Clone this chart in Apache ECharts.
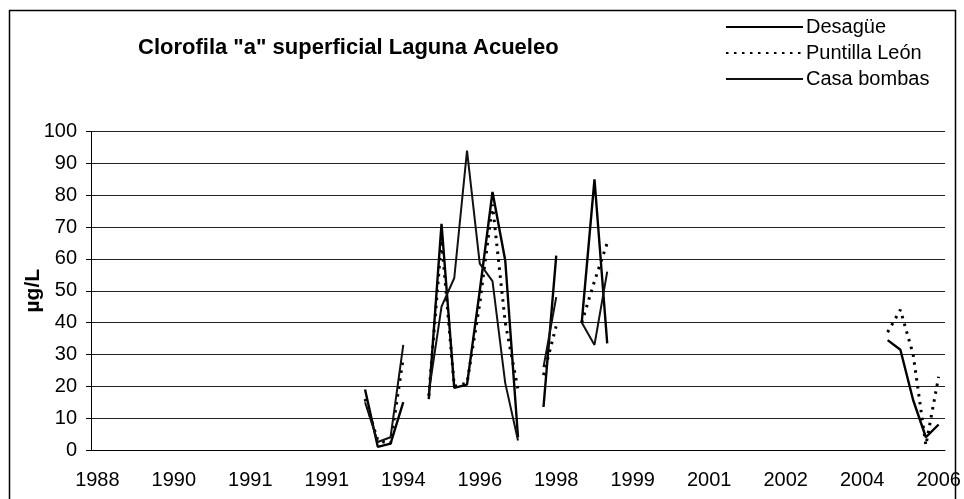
<!DOCTYPE html>
<html>
<head>
<meta charset="utf-8">
<script src="https://cdn.jsdelivr.net/npm/echarts@6/dist/echarts.min.js"></script>
<style>
  html, body { margin: 0; padding: 0; background: #fff; }
  #chart { width: 964px; height: 499px; }
</style>
</head>
<body>
<div id="chart"></div>
<script>
// sampling dates (one category per campaign); only every 6th is labelled
var categories = [
  '1988', '1988', '1989', '1989', '1989', '1990',
  '1990', '1990', '1990', '1991', '1991', '1991',
  '1991', '1991', '1991', '1991', '1991', '1991',
  '1991', '1992', '1993', '1993', '1993', '1994',
  '1994', '1995', '1995', '1995', '1995', '1996',
  '1996', '1996', '1997', '1997', '1997', '1998',
  '1998', '1998', '1999', '1999', '1999', '1999',
  '1999', '2000', '2000', '2000', '2001', '2001',
  '2001', '2001', '2001', '2002', '2002', '2002',
  '2002', '2003', '2003', '2003', '2004', '2004',
  '2004', '2005', '2005', '2005', '2005', '2006',
  '2006'
];

var n = null;
// µg/L, null = no sample
var desague = [
  n, n, n, n, n, n, n, n, n, n, n, n, n, n, n, n, n, n, n, n, n,
  19, 1, 2, 15, n,
  16, 71, 19.5, 20.5, 50, 81, 59.5, 4, n,
  13.5, 61, n,
  40, 85, 33.5,
  n, n, n, n, n, n, n, n, n, n, n, n, n, n, n, n, n, n, n, n, n,
  34.5, 31.5, 15.7, 4, 8
];
var puntilla = [
  n, n, n, n, n, n, n, n, n, n, n, n, n, n, n, n, n, n, n, n, n,
  16, 3, 2, 29, n,
  17, 66, 20, 21, 46, 77, 40, 19, n,
  23.5, 39, n,
  40, 53, 65,
  n, n, n, n, n, n, n, n, n, n, n, n, n, n, n, n, n, n, n, n, n,
  37, 44, 30, 1.5, 23
];
var casaBombas = [
  n, n, n, n, n, n, n, n, n, n, n, n, n, n, n, n, n, n, n, n, n,
  15, 2.5, 4, 33, n,
  18, 45, 54, 94, 58.5, 53, 21, 3, n,
  26, 48, n,
  40, 33, 56,
  n, n, n, n, n, n, n, n, n, n, n, n, n, n, n, n, n, n, n, n, n,
  n, n, n, n, n
];
var yTicks = [0, 100, 10]; // min, max, step

var font = 'Liberation Sans, Arial, sans-serif';
var chart = echarts.init(document.getElementById('chart'));

chart.setOption({
  animation: false,
  backgroundColor: '#fff',
  title: {
    text: 'Clorofila "a" superficial Laguna Acueleo',
    left: 138,
    top: 37,
    padding: 0,
    textStyle: { fontFamily: font, fontSize: 22, fontWeight: 'bold', color: '#000' }
  },
  legend: {
    orient: 'vertical',
    left: 725,
    top: 17,
    padding: 0,
    itemWidth: 77,
    itemHeight: 20,
    itemGap: 6,
    itemStyle: { opacity: 0 },
    textStyle: { fontFamily: font, fontSize: 20, color: '#000', padding: [0, 0, 0, -2] },
    data: ['Desagüe', 'Puntilla León', 'Casa bombas']
  },
  grid: { left: 91, right: 19, top: 131.5, bottom: 49 },
  xAxis: {
    type: 'category',
    data: categories,
    boundaryGap: true,
    axisLine: { lineStyle: { color: '#000', width: 1 } },
    axisTick: { interval: 1, length: 5, lineStyle: { color: '#000' } },
    axisLabel: { interval: 5, margin: 20, fontFamily: font, fontSize: 20, color: '#000' }
  },
  yAxis: {
    type: 'value',
    min: yTicks[0],
    max: yTicks[1],
    interval: yTicks[2],
    name: 'µg/L',
    nameLocation: 'middle',
    nameRotate: 90,
    nameGap: 47,
    nameMoveOverlap: false,
    nameTextStyle: { fontFamily: font, fontSize: 21, fontWeight: 'bold', color: '#000' },
    axisLine: { show: true, lineStyle: { color: '#000', width: 1 } },
    axisTick: { show: true, length: 5, lineStyle: { color: '#000' } },
    axisLabel: { margin: 14, fontFamily: font, fontSize: 20, color: '#000' },
    splitLine: { lineStyle: { color: '#222', width: 1 } }
  },
  series: [
    {
      name: 'Desagüe', type: 'line', data: desague,
      showSymbol: false, symbol: 'none', connectNulls: false,
      lineStyle: { color: '#000', width: 2.4 },
      itemStyle: { color: '#000' }
    },
    {
      name: 'Puntilla León', type: 'line', data: puntilla,
      showSymbol: false, symbol: 'none', connectNulls: false,
      lineStyle: { color: '#000', width: 3, type: [2.5, 5.5] },
      itemStyle: { color: '#000' }
    },
    {
      name: 'Casa bombas', type: 'line', data: casaBombas,
      showSymbol: false, symbol: 'none', connectNulls: false,
      lineStyle: { color: '#111', width: 2 },
      itemStyle: { color: '#111' }
    }
  ],
  graphic: [
    {
      type: 'rect',
      shape: { x: 9.5, y: 10.5, width: 946, height: 520 },
      style: { fill: 'none', stroke: '#000', lineWidth: 1.5 },
      silent: true
    }
  ]
});
</script>
</body>
</html>
